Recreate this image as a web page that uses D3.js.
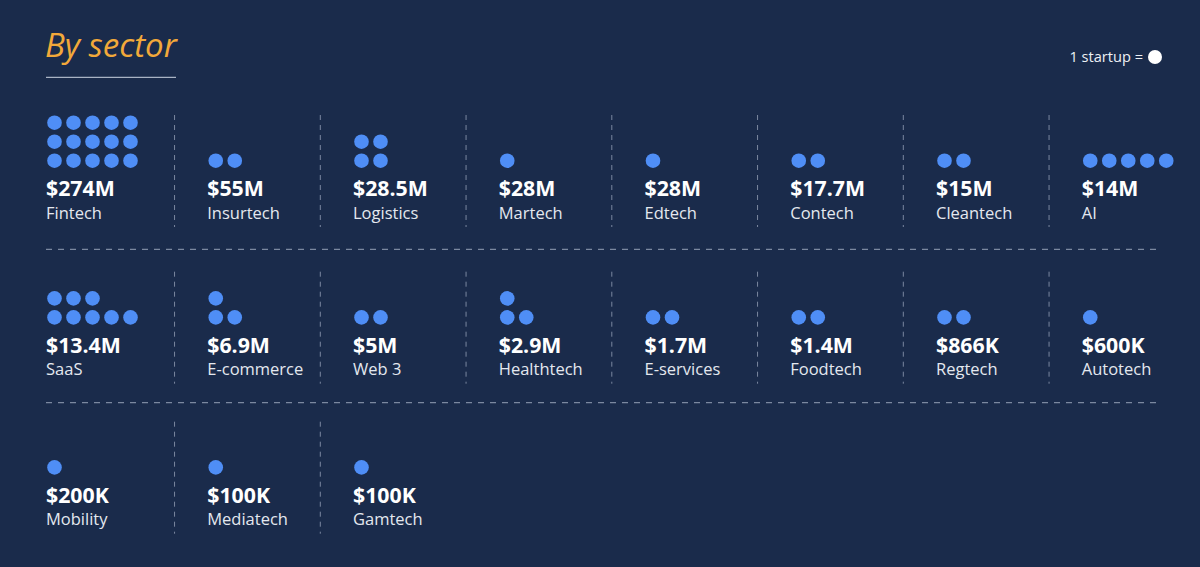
<!DOCTYPE html>
<html>
<head>
<meta charset="utf-8">
<script src="https://cdn.jsdelivr.net/npm/d3@7"></script>
<style>
  html, body { margin: 0; padding: 0; background: #1a2b4b; }
  svg { display: block; }
  text { font-family: "Open Sans", "Noto Sans", sans-serif; }
</style>
</head>
<body>
<svg id="chart" width="1200" height="567"></svg>
<script>
// ---- DATA ----
const sectors = ["Fintech","Insurtech","Logistics","Martech","Edtech","Contech","Cleantech","AI",
                 "SaaS","E-commerce","Web 3","Healthtech","E-services","Foodtech","Regtech","Autotech",
                 "Mobility","Mediatech","Gamtech"];
const amounts = ["$274M","$55M","$28.5M","$28M","$28M","$17.7M","$15M","$14M",
                 "$13.4M","$6.9M","$5M","$2.9M","$1.7M","$1.4M","$866K","$600K",
                 "$200K","$100K","$100K"];
const startups = [15,2,4,1,1,2,2,5, 8,3,2,3,2,2,2,1, 1,1,1];
const dotsPerRow = [5,5,2,5,5,5,5,5, 5,2,5,2,5,5,5,5, 5,5,5];
const title = "By sector";
const legendLabel = "1 startup =";

// ---- LAYOUT ----
const svg = d3.select("#chart");
const W = 1200, H = 567;
const colors = { bg: "#1a2b4b", dot: "#4f8ef6", value: "#ffffff", label: "#e4e8ef",
                 title: "#f2a93a", line: "#7b88a0", underline: "#a9b3c4" };

svg.append("rect").attr("width", W).attr("height", H).attr("fill", colors.bg);

const nCols = 8;
const col = d3.scaleBand().domain(d3.range(nCols)).range([28.3, 1194.3]).paddingInner(0).paddingOuter(0);
const rowBase = d3.scaleOrdinal().domain([0,1,2]).range([196, 352.7, 502.7]);
const dotStep = 19, dotR = 7.3;

const items = sectors.map((s, i) => ({
  name: s, amount: amounts[i], n: startups[i], per: dotsPerRow[i],
  c: i % nCols, r: Math.floor(i / nCols)
}));
const textX = d => col(d.c) + (d.c === 0 ? 17.7 : 33.2);

// Title
svg.append("text").attr("x", 45).attr("y", 57)
  .attr("fill", colors.title).attr("font-size", 33).attr("font-style", "italic")
  .text(title);
svg.append("line").attr("x1", 46).attr("x2", 176).attr("y1", 77.3).attr("y2", 77.3)
  .attr("stroke", colors.underline).attr("stroke-width", 1.3);

// Legend
svg.append("text").attr("x", 1143).attr("y", 62).attr("text-anchor", "end")
  .attr("fill", "#eef1f5").attr("font-size", 14.6).text(legendLabel);
svg.append("circle").attr("cx", 1155).attr("cy", 57).attr("r", 7).attr("fill", "#ffffff");

// Horizontal separators
const rowsCount = d3.max(items, d => d.r) + 1;
d3.range(rowsCount - 1).forEach(r => {
  const y = ((rowBase(r) + 31) + (rowBase(r + 1) - 81)) / 2;
  svg.append("line").attr("x1", 46).attr("x2", 1156).attr("y1", y).attr("y2", y)
    .attr("stroke", colors.line).attr("stroke-width", 1.2).attr("stroke-dasharray", "6,6");
});

// Cells
const cell = svg.selectAll("g.cell").data(items).join("g").attr("class", "cell");

// Vertical separators (left of every cell except first column)
cell.filter(d => d.c > 0).append("line")
  .attr("x1", d => col(d.c) + 0.5).attr("x2", d => col(d.c) + 0.5)
  .attr("y1", d => rowBase(d.r) - 81).attr("y2", d => rowBase(d.r) + 31)
  .attr("stroke", colors.line).attr("stroke-width", 1).attr("stroke-dasharray", "5,5");

// Dots (filled from bottom row up)
cell.each(function(d) {
  const dots = d3.range(d.n).map(k => ({ j: k % d.per, row: Math.floor(k / d.per) }));
  d3.select(this).selectAll("circle").data(dots).join("circle")
    .attr("cx", p => textX(d) + 8.5 + p.j * dotStep)
    .attr("cy", p => rowBase(d.r) - 35.3 - p.row * dotStep)
    .attr("r", dotR).attr("fill", colors.dot);
});

cell.append("text").attr("x", textX).attr("y", d => rowBase(d.r))
  .attr("fill", colors.value).attr("font-size", 21.3).attr("font-weight", 700)
  .text(d => d.amount);
cell.append("text").attr("x", textX).attr("y", d => rowBase(d.r) + 22.5)
  .attr("fill", colors.label).attr("font-size", 16.5)
  .text(d => d.name);
</script>
</body>
</html>
